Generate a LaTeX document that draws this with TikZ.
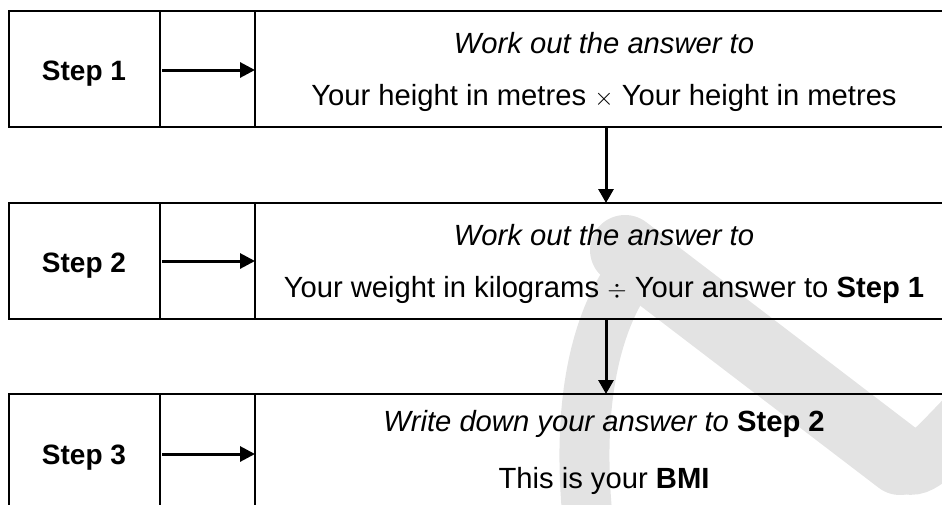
\documentclass[tikz,border=0pt]{standalone}
\usepackage{fontspec}
\setmainfont{Liberation Sans}
\usetikzlibrary{arrows.meta}
\begin{document}
\begin{tikzpicture}[x=1pt,y=-1pt,
  frame/.style={line width=2.5pt},
  harrow/.style={line width=3pt,-{Triangle[length=15pt,width=15pt]}},
  varrow/.style={line width=3pt,-{Triangle[length=14pt,width=15pt]}},
  label/.style={font=\fontsize{28}{34}\selectfont\bfseries,anchor=base},
  body/.style={font=\fontsize{29.2}{34}\selectfont,anchor=base},
  wm/.style={draw=black!11,line cap=round}]
\useasboundingbox (0,0) rectangle (942,504);
\begin{scope}
\clip (0,0) rectangle (942,504);
% watermark
\draw[wm,line width=50pt] (590,540) .. controls (575,420) and (590,320) .. (640,262);
\draw[wm,line width=70pt] (625,250) -- (900,460);
\draw[wm,line width=60pt] (900,460) .. controls (915,472) and (925,462) .. (965,420);
% rows
\foreach \t/\n in {11/1,203/2,394/3}{
  \draw[frame] (942,\t) -- (9,\t) -- (9,\t+116) -- (942,\t+116);
  \draw[frame] (160,\t) -- (160,\t+116);
  \draw[frame] (255,\t) -- (255,\t+116);
}
\end{scope}
\node[label] (s1) at (84,80) {Step 1};
\node[label] (s2) at (84,272) {Step 2};
\node[label] (s3) at (84,464) {Step 3};
\coordinate (a1s) at (162,70); \coordinate (a1e) at (255,70);
\coordinate (a2s) at (162,261); \coordinate (a2e) at (255,261);
\coordinate (a3s) at (162,454); \coordinate (a3e) at (255,454);
\draw[harrow] (a1s) -- (a1e);
\draw[harrow] (a2s) -- (a2e);
\draw[harrow] (a3s) -- (a3e);
\node[body] (t1a) at (604,53) {\itshape Work out the answer to};
\node[body] (t1b) at (604,105) {Your height in metres $\times$ Your height in metres};
\node[body] (t2a) at (604,245) {\itshape Work out the answer to};
\node[body] (t2b) at (604,297) {Your weight in kilograms $\div$ Your answer to \textbf{Step 1}};
\node[body] (t3a) at (604,431) {\itshape Write down your answer to \textbf{\upshape Step 2}};
\node[body] (t3b) at (604,488) {This is your \textbf{BMI}};
\coordinate (v1s) at (606,127); \coordinate (v1e) at (606,203);
\coordinate (v2s) at (606,319); \coordinate (v2e) at (606,394);
\draw[varrow] (v1s) -- (v1e);
\draw[varrow] (v2s) -- (v2e);
\end{tikzpicture}
\end{document}
